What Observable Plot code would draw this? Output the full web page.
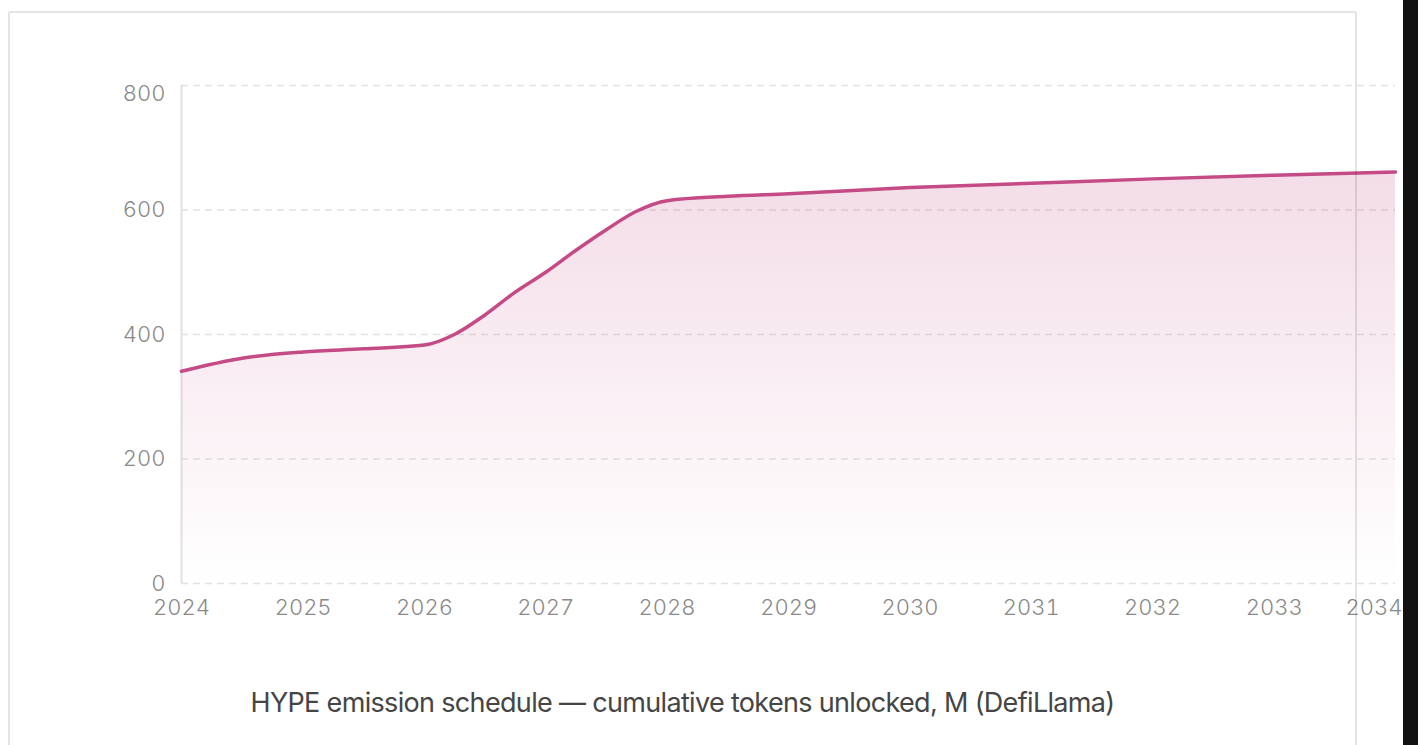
<!DOCTYPE html>
<html>
<head>
<meta charset="utf-8">
<script src="https://cdn.jsdelivr.net/npm/d3@7"></script>
<script src="https://cdn.jsdelivr.net/npm/@observablehq/plot@0.6"></script>
<style>
  html, body { margin: 0; padding: 0; background: #ffffff; overflow: hidden; }
  body { width: 1418px; height: 745px; position: relative; font-family: Inter, "Noto Sans", sans-serif; }
  #chart { position: absolute; left: 0; top: 0; }
  #card { position: absolute; left: 8px; top: 11px; width: 1345px; height: 800px; border: 2px solid rgba(0,0,0,0.105); border-radius: 2px; z-index: 2; pointer-events: none; }
  #caption { position: absolute; left: 9px; width: 1347px; top: 686px; text-align: center; font-size: 27px; color: #454545; letter-spacing: -0.67px; }
  #strip { position: absolute; right: 0; top: 0; width: 15px; height: 745px; background: #121212; z-index: 3; }
</style>
</head>
<body>
<div id="chart"></div>
<div id="card"></div>
<div id="caption">HYPE emission schedule — cumulative tokens unlocked, M (DefiLlama)</div>
<div id="strip"></div>
<script>
const dates = ["2024-01-01","2024-07-01","2025-01-01","2025-07-01","2026-01-01","2026-04-01","2026-07-01","2026-10-01","2027-01-01","2027-04-01","2027-07-01","2027-10-01","2028-01-01","2028-07-01","2029-01-01","2030-01-01","2031-01-01","2032-01-01","2033-01-01","2034-01-01"];
const values = [341, 362, 372, 377, 383, 400, 431, 468, 500, 535, 568, 598, 615, 622, 626, 636, 643, 650, 656, 661];
const yTicks = [0, 200, 400, 600, 800];
const xTickYears = ["2024","2025","2026","2027","2028","2029","2030","2031","2032","2033","2034"];

const data = dates.map((d, i) => ({date: new Date(d), value: values[i]}));
const xTicks = xTickYears.map(y => new Date(y + "-01-01"));

const lineColor = "#c44b85";
const tickColor = "#8a8a8a";

const plot = Plot.plot({
  width: 1403,
  height: 640,
  marginLeft: 181,
  marginRight: 8,
  marginTop: 85,
  marginBottom: 57,
  style: {fontFamily: "Inter, 'Noto Sans', sans-serif", fontSize: "22px", color: tickColor, background: "transparent", overflow: "visible"},
  x: {type: "utc", domain: [xTicks[0], xTicks[xTicks.length - 1]]},
  y: {domain: [0, 800]},
  marks: [
    () => {
      const defs = d3.create("svg:defs");
      const g = defs.append("linearGradient").attr("id", "areaGrad").attr("x1", 0).attr("y1", 0).attr("x2", 0).attr("y2", 1);
      g.append("stop").attr("offset", "0%").attr("stop-color", lineColor).attr("stop-opacity", 0.19);
      g.append("stop").attr("offset", "100%").attr("stop-color", lineColor).attr("stop-opacity", 0.0);
      return defs.node();
    },
    Plot.gridY(yTicks, {stroke: "#e2e2e2", strokeOpacity: 1, strokeWidth: 1.5, strokeDasharray: "7,5"}),
    Plot.ruleX([xTicks[0]], {y1: 0, y2: 800, stroke: "#e2e2e2", strokeWidth: 2}),
    Plot.areaY(data, {x: "date", y: "value", fill: "url(#areaGrad)", curve: "monotone-x"}),
    Plot.lineY(data, {x: "date", y: "value", stroke: lineColor, strokeWidth: 3.5, curve: "monotone-x"}),
    Plot.axisY(yTicks.slice(0, -1), {tickSize: 0, tickPadding: 16, label: null, fill: tickColor, fontWeight: 300}),
    Plot.axisY(yTicks.slice(-1), {tickSize: 0, tickPadding: 16, dy: 8, label: null, fill: tickColor, fontWeight: 300}),
    Plot.axisX(xTicks.slice(0, -1), {tickSize: 0, tickPadding: 16, tickFormat: d3.utcFormat("%Y"), label: null, fill: tickColor, fontWeight: 300}),
    Plot.axisX(xTicks.slice(-1), {tickSize: 0, tickPadding: 16, textAnchor: "end", dx: 7, tickFormat: d3.utcFormat("%Y"), label: null, fill: tickColor, fontWeight: 300})
  ]
});
document.getElementById("chart").appendChild(plot);
</script>
</body>
</html>
